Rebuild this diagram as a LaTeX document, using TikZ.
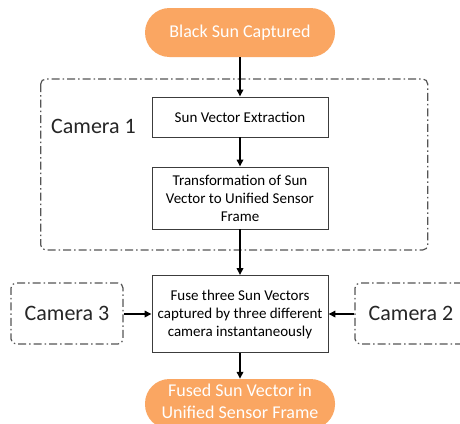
\documentclass[tikz,border=0pt]{standalone}
\usepackage{fontspec}
\setmainfont{Carlito}
\usetikzlibrary{arrows.meta}
\definecolor{termorange}{RGB}{250,166,98}
\definecolor{boxline}{RGB}{60,60,60}
\definecolor{frameline}{RGB}{85,85,85}
\tikzset{
  terminal/.style={fill=termorange, draw=none, rounded corners=24.5pt,
    minimum width=190pt, text=white, align=center,
    font=\fontsize{18pt}{21.6pt}\selectfont, inner sep=0pt},
  termtext/.style={text=white, align=center,
    font=\fontsize{18pt}{21.6pt}\selectfont, inner sep=0pt},
  procbox/.style={draw=boxline, line width=0.9pt, fill=white, minimum width=176pt,
    align=center, font=\fontsize{15pt}{18pt}\selectfont, inner sep=0pt},
  camframe/.style={draw=frameline, line width=1.2pt, rounded corners=5pt,
    dash pattern=on 8pt off 3pt on 1.5pt off 3pt},
  camlabel/.style={font=\fontsize{22pt}{26pt}\selectfont, text=black!85, inner sep=0pt},
  flow/.style={-{Triangle[length=7pt,width=6.5pt]}, line width=1.6pt, black}
}
\begin{document}
\begin{tikzpicture}[x=1pt, y=-1pt]
  \clip (0,0) rectangle (460,423);
  \fill[white] (0,0) rectangle (460,423);

  % camera 1 processing group
  \draw[camframe] (40.7,79) rectangle (427.7,250);
  \node[camlabel] (cam1) at (93.5,126) {Camera 1};

  % start and end terminals
  \node[terminal, minimum height=49pt] (start) at (240,32.5) {Black Sun Captured};
  \node[terminal, minimum height=50pt] (finish) at (240,404) {};
  \node[termtext] (finishtext) at (240,401.5) {Fused Sun Vector in\\Unified Sensor Frame};

  % processing steps
  \node[procbox, minimum height=40pt] (extract) at (240,117) {Sun Vector Extraction};
  \node[procbox, minimum height=62pt] (transform) at (240,198) {Transformation of Sun\\Vector to Unified Sensor\\Frame};
  \node[procbox, minimum height=77pt] (fuse) at (240,314) {Fuse three Sun Vectors\\captured by three different\\camera instantaneously};

  % other two cameras
  \node[camframe, minimum width=112pt, minimum height=61pt] (cam3box) at (67,313.5) {};
  \node[camlabel] (cam3) at (67,313.5) {Camera 3};
  \node[camframe, minimum width=112pt, minimum height=61pt] (cam2box) at (411,313.5) {};
  \node[camlabel] (cam2) at (411,313.5) {Camera 2};

  % flow arrows
  \draw[flow] (start) -- (extract);
  \draw[flow] (extract) -- (transform);
  \draw[flow] (transform) -- (fuse);
  \draw[flow] (fuse) -- (finish);
  \draw[flow] (cam3box.east |- fuse) -- (fuse.west);
  \draw[flow] (cam2box.west |- fuse) -- (fuse.east);
\end{tikzpicture}
\end{document}
